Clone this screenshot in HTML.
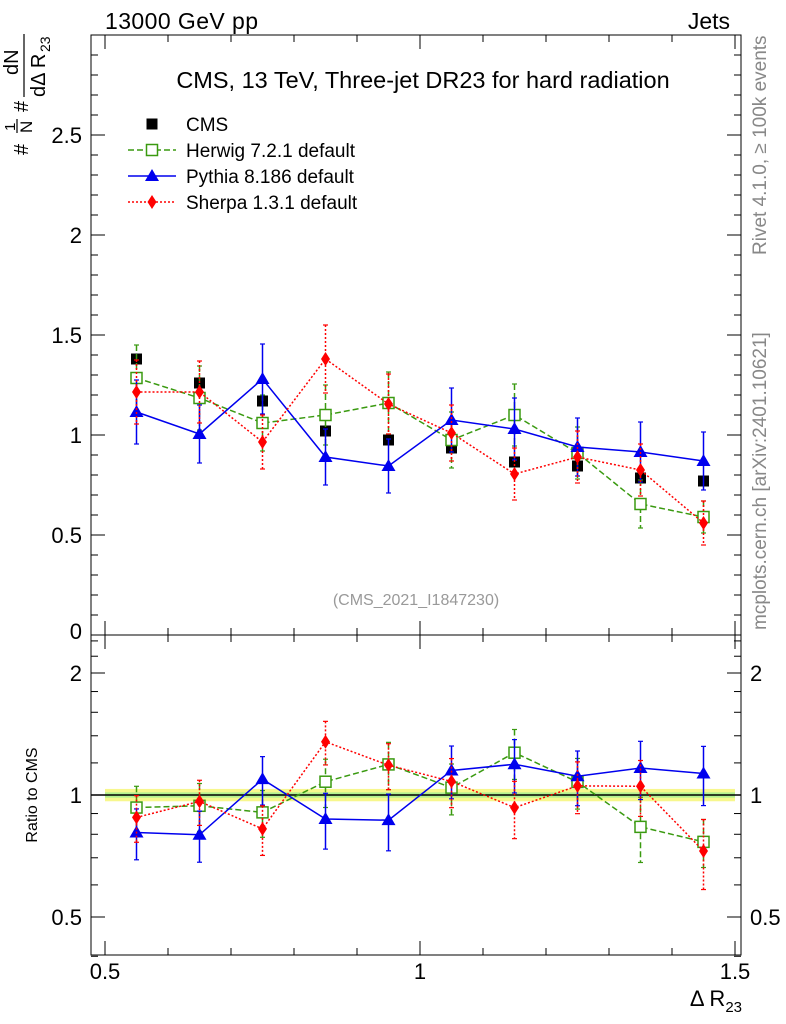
<!DOCTYPE html>
<html><head><meta charset="utf-8"><style>
body{margin:0;background:#fff}
svg{display:block;font-family:"Liberation Sans",sans-serif}
</style></head><body>
<svg id="c" width="786" height="1024" xmlns="http://www.w3.org/2000/svg">
<text x="105" y="29" font-size="23" textLength="153">13000 GeV pp</text>
<text x="730" y="29" font-size="23" text-anchor="end">Jets</text>
<text x="423" y="88" font-size="23.5" text-anchor="middle">CMS, 13 TeV, Three-jet DR23 for hard radiation</text>
<text x="416" y="605" font-size="16" fill="#999" text-anchor="middle">(CMS_2021_I1847230)</text>
<text transform="translate(766,255) rotate(-90)" font-size="19" fill="#888">Rivet 4.1.0, ≥ 100k events</text>
<text transform="translate(766,630) rotate(-90)" font-size="19" fill="#888">mcplots.cern.ch [arXiv:2401.10621]</text>
<g transform="translate(0,155) rotate(-90)">
<text x="0" y="28" font-size="20">#</text>
<text x="24" y="15" font-size="15">1</text>
<line x1="22" x2="36" y1="17" y2="17" stroke="#000" stroke-width="1.2"/>
<text x="22" y="32" font-size="17">N</text>
<text x="43" y="28" font-size="20">#</text>
<text x="80" y="18" font-size="20">dN</text>
<line x1="58" x2="121" y1="24" y2="24" stroke="#000" stroke-width="1.2"/>
<text x="58" y="45" font-size="20">dΔ R</text>
<text x="103" y="50" font-size="14">23</text>
</g>
<text transform="translate(37,795) rotate(-90)" font-size="16" text-anchor="middle">Ratio to CMS</text>
<text x="742" y="1006" font-size="22" text-anchor="end">Δ R<tspan font-size="15" dy="6">23</tspan></text>
<g id="plot"></g>
</svg>
<script>
const xCenters=[0.55,0.65,0.75,0.85,0.95,1.05,1.15,1.25,1.35,1.45];
const cmsVals=[1.38,1.26,1.17,1.02,0.975,0.935,0.865,0.845,0.785,0.77];
const cmsErr=[0.02,0.02,0.02,0.02,0.02,0.02,0.02,0.02,0.02,0.02];
const herwigVals=[1.285,1.185,1.06,1.10,1.16,0.975,1.10,0.91,0.655,0.59];
const herwigErr=[0.165,0.16,0.14,0.15,0.155,0.14,0.155,0.13,0.12,0.08];
const pythiaVals=[1.115,1.005,1.28,0.89,0.845,1.075,1.03,0.94,0.915,0.87];
const pythiaErr=[0.16,0.145,0.175,0.14,0.135,0.16,0.155,0.145,0.15,0.145];
const sherpaVals=[1.215,1.215,0.965,1.38,1.155,1.01,0.805,0.89,0.825,0.56];
const sherpaErr=[0.16,0.155,0.135,0.17,0.15,0.14,0.13,0.13,0.13,0.11];
const mainTicks=["0.5","1","1.5","2","2.5"];
const mainTickVals=[0.5,1,1.5,2,2.5];
const ratioTicks=["0.5","1","2"];
const ratioTickVals=[0.5,1,2];
const xTicks=["0.5","1","1.5"];
const xTickVals=[0.5,1,1.5];

const L=91,R=741,T=35,M=635,B=955;
const X=v=>105+(v-0.5)*630;
const Y=v=>635-v*200;
const YR=v=>795-Math.log2(v)*122;
const g=document.getElementById('plot');
const NS='http://www.w3.org/2000/svg';
function mk(t,a,p){const e=document.createElementNS(NS,t);for(const k in a)e.setAttribute(k,a[k]);(p||g).appendChild(e);return e;}

const band=mk('rect',{x:X(0.5),y:YR(1.035),width:X(1.5)-X(0.5),height:YR(0.965)-YR(1.035),fill:'#f5f570',opacity:0.8});


const band2=mk('rect',{x:X(0.5),y:YR(1.015),width:X(1.5)-X(0.5),height:YR(0.985)-YR(1.015),fill:'#a0ee90',opacity:0.8});


const one=mk('line',{x1:L,x2:R,y1:YR(1),y2:YR(1),stroke:'#000','stroke-width':1.5});



const f1=mk('rect',{x:L,y:T,width:R-L,height:M-T,fill:'none',stroke:'#000','stroke-width':1});


const f2=mk('rect',{x:L,y:M,width:R-L,height:B-M,fill:'none',stroke:'#000','stroke-width':1});



for(let v=0;v<=3.0001;v+=0.1){const maj=Math.abs(v*2-Math.round(v*2))<1e-6;const len=maj?14:7;
 mk('line',{x1:L,x2:L+len,y1:Y(v),y2:Y(v),stroke:'#000'});mk('line',{x1:R,x2:R-len,y1:Y(v),y2:Y(v),stroke:'#000'});}
mainTickVals.forEach((v,i)=>{const t=mk('text',{x:82,y:Y(v)+8,'font-size':22,'text-anchor':'end'});t.textContent=mainTicks[i];
 
 });
const z=mk('text',{x:82,y:M+4,'font-size':22,'text-anchor':'end'});z.textContent='0';
[0.4,0.5,0.6,0.7,0.8,0.9,1,1.2,1.4,1.6,1.8,2,2.2,2.4].forEach(v=>{const maj=(v==0.5||v==1||v==2);const len=maj?14:7;
 mk('line',{x1:L,x2:L+len,y1:YR(v),y2:YR(v),stroke:'#000'});mk('line',{x1:R,x2:R-len,y1:YR(v),y2:YR(v),stroke:'#000'});});
ratioTickVals.forEach((v,i)=>{let t=mk('text',{x:82,y:YR(v)+8,'font-size':22,'text-anchor':'end'});t.textContent=ratioTicks[i];
 
 
 t=mk('text',{x:750,y:YR(v)+8,'font-size':22});t.textContent=ratioTicks[i];
 
 });
for(let v=0.5;v<=1.5001;v+=0.1){const maj=Math.abs(v*2-Math.round(v*2))<1e-6;const len=maj?14:7;
 [[T,1],[M,1],[M,-1],[B,-1]].forEach(([y0,d])=>mk('line',{x1:X(v),x2:X(v),y1:y0,y2:y0+d*len,stroke:'#000'}));}
xTickVals.forEach((v,i)=>{const t=mk('text',{x:X(v),y:979,'font-size':22,'text-anchor':'middle'});t.textContent=xTicks[i];
 
 });

function marker(type,x,y,color,p){
 if(type=='sq')return mk('rect',{x:x-5.5,y:y-5.5,width:11,height:11,fill:'#000'},p);
 if(type=='osq')return mk('rect',{x:x-5.5,y:y-5.5,width:11,height:11,fill:'#fff',stroke:color,'stroke-width':1.5},p);
 if(type=='tri')return mk('polygon',{points:`${x},${y-7} ${x-7},${y+5} ${x+7},${y+5}`,fill:color},p);
 return mk('polygon',{points:`${x},${y-7} ${x-4.5},${y} ${x},${y+7} ${x+4.5},${y}`,fill:color},p);
}
function series(name,vals,errs,color,dash,type,ratio){
 const sg=mk('g',{});
 
 
 const ys=vals.map((v,i)=>ratio?YR(v/cmsVals[i]):Y(v));
 const hi=vals.map((v,i)=>ratio?YR((v+errs[i])/cmsVals[i]):Y(v+errs[i]));
 const lo=vals.map((v,i)=>ratio?YR((v-errs[i])/cmsVals[i]):Y(v-errs[i]));
 if(type!='sq'){mk('polyline',{points:xCenters.map((x,i)=>X(x)+','+ys[i]).join(' '),fill:'none',stroke:color,'stroke-width':1.5,'stroke-dasharray':dash},sg);}
 xCenters.forEach((x,i)=>{
  mk('line',{x1:X(x),x2:X(x),y1:hi[i],y2:lo[i],stroke:color,'stroke-width':1.5,'stroke-dasharray':dash},sg);
  mk('line',{x1:X(x)-2.5,x2:X(x)+2.5,y1:hi[i],y2:hi[i],stroke:color,'stroke-width':1.2},sg);
  mk('line',{x1:X(x)-2.5,x2:X(x)+2.5,y1:lo[i],y2:lo[i],stroke:color,'stroke-width':1.2},sg);
  const m=marker(type,X(x),ys[i],color,sg);
  
  
 });
}
series('cms',cmsVals,cmsErr,'#000','','sq',false);
series('herwig',herwigVals,herwigErr,'#3a9a10','6,3','osq',false);
series('pythia',pythiaVals,pythiaErr,'#0000ee','','tri',false);
series('sherpa',sherpaVals,sherpaErr,'#ff0000','2,2','dia',false);
series('herwig',herwigVals,herwigErr,'#3a9a10','6,3','osq',true);
series('pythia',pythiaVals,pythiaErr,'#0000ee','','tri',true);
series('sherpa',sherpaVals,sherpaErr,'#ff0000','2,2','dia',true);

const leg=[['CMS','#000','','sq'],['Herwig 7.2.1 default','#3a9a10','6,3','osq'],['Pythia 8.186 default','#0000ee','','tri'],['Sherpa 1.3.1 default','#ff0000','2,2','dia']];
leg.forEach((l,i)=>{const lg=mk('g',{});
 
 
 const y=124+i*26;
 if(i>0)mk('line',{x1:128,x2:176,y1:y,y2:y,stroke:l[1],'stroke-width':1.5,'stroke-dasharray':l[2]},lg);
 marker(l[3],152,y,l[1],lg);
 const t=mk('text',{x:186,y:y+7,'font-size':19},lg);t.textContent=l[0];});
</script>
</body></html>
